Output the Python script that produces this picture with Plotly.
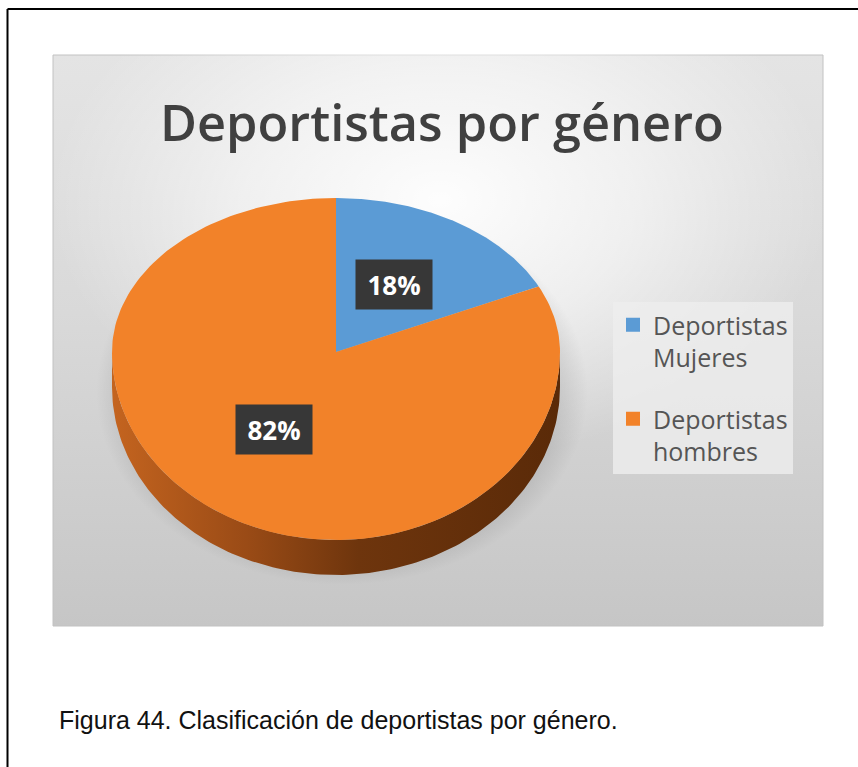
import numpy as np
import plotly.graph_objects as go

# ---------------- data ----------------
categories = ["Deportistas Mujeres", "Deportistas hombres"]
legend_names = ["Deportistas<br>Mujeres", "Deportistas<br>hombres"]
values = [18, 82]
label_texts = ["18%", "82%"]
slice_colors = ["#5B9BD5", "#F28229"]

title_text = "Deportistas por género"
caption_text = "Figura 44. Clasificación de deportistas por género."

# ---------------- layout geometry (pixels) ----------------
W, H = 858, 767
BOX = (53, 55, 823, 626)
CX, CY = 336, 352
RX, RY_UP, RY_DOWN = 224, 154, 188
DEPTH = 35


def ell(theta_deg, scale=1.0):
    t = np.radians(np.asarray(theta_deg, dtype=float))
    c = np.cos(t)
    ry = np.where(c >= 0, RY_UP, RY_DOWN)
    return CX + scale * RX * np.sin(t), CY - scale * ry * c


fig = go.Figure()

# background gray panel (vertical gradient) + soft highlight
x0, y0, x1, y1 = BOX
fig.add_trace(go.Scatter(
    x=[x0, x1, x1, x0, x0], y=[y0, y0, y1, y1, y0], mode="lines",
    line=dict(color="#c2c2c2", width=1), fill="toself",
    fillgradient=dict(type="vertical",
                      colorscale=[[0, "#c6c6c6"], [0.55, "#d9d9d9"], [1, "#e4e4e4"]]),
    hoverinfo="skip", showlegend=False))
th = np.linspace(0, 360, 200)
fig.add_trace(go.Scatter(
    x=440 + 390 * np.sin(np.radians(th)), y=200 - 260 * np.cos(np.radians(th)),
    mode="lines", line=dict(width=0), fill="toself",
    fillgradient=dict(type="radial",
                      colorscale=[[0, "rgba(255,255,255,0.95)"], [0.5, "rgba(255,255,255,0.55)"],
                                  [1, "rgba(255,255,255,0)"]]),
    hoverinfo="skip", showlegend=False))

# shadow under the pie
sx = CX + 6 + (RX + 22) * np.sin(np.radians(th))
sy = CY + 40 - ((RY_UP + RY_DOWN) / 2 + 22) * np.cos(np.radians(th))
fig.add_trace(go.Scatter(
    x=sx, y=sy, mode="lines", line=dict(width=0), fill="toself",
    fillgradient=dict(type="radial",
                      colorscale=[[0, "rgba(0,0,0,0.25)"], [0.8, "rgba(0,0,0,0.16)"],
                                  [1, "rgba(0,0,0,0)"]]),
    hoverinfo="skip", showlegend=False))

# slice angles from data
total = float(sum(values))
ends = np.cumsum(values) / total * 360.0
starts = np.concatenate([[0.0], ends[:-1]])

# side wall (front half only)
for a0, a1 in zip(starts, ends):
    w0, w1 = max(a0, 90.0), min(a1, 270.0)
    if w1 <= w0:
        continue
    tt = np.linspace(w0, w1, 160)
    ex, ey = ell(tt)
    wx = np.concatenate([ex, ex[::-1], ex[:1]])
    wy = np.concatenate([ey, ey[::-1] + DEPTH, ey[:1]])
    fig.add_trace(go.Scatter(
        x=wx, y=wy, mode="lines", line=dict(width=0), fill="toself",
        fillgradient=dict(type="horizontal",
                          colorscale=[[0, "#c4641f"], [0.3, "#9a4b16"], [0.55, "#6e350d"],
                                      [1, "#5a2a08"]]),
        hoverinfo="skip", showlegend=False))

# top faces
for name, a0, a1, col in zip(categories, starts, ends, slice_colors):
    tt = np.linspace(a0, a1, 200)
    ex, ey = ell(tt)
    fig.add_trace(go.Scatter(
        x=np.concatenate([[CX], ex, [CX]]), y=np.concatenate([[CY], ey, [CY]]),
        mode="lines", line=dict(width=0), fill="toself", fillcolor=col,
        name=name, hoverinfo="name", showlegend=False))

# data labels
mids = (starts + ends) / 2
for txt, m in zip(label_texts, mids):
    lx, ly = ell(m, 0.5)
    fig.add_annotation(x=float(lx) - 2, y=float(ly) - 2, xref="x", yref="y",
                       text="<b>" + txt + "</b>",
                       showarrow=False, font=dict(family="Open Sans", size=26, color="white"),
                       bgcolor="#373737", width=76, height=49, borderpad=0,
                       xanchor="center", yanchor="middle")

# legend entries
for i, (nm, col) in enumerate(zip(legend_names, slice_colors)):
    fig.add_trace(go.Scatter(x=[None], y=[None], mode="markers",
                             marker=dict(symbol="square", size=14, color=col),
                             name=nm, legendgroup=str(i)))

# title and caption
fig.add_annotation(x=442, y=121, xref="x", yref="y", text=title_text, showarrow=False,
                   font=dict(family="Open Sans", size=50.5, color="#404040", weight=600),
                   xanchor="center", yanchor="middle")
fig.add_annotation(x=57, y=720, xref="x", yref="y", text=caption_text, showarrow=False,
                   font=dict(family="Liberation Sans", size=25, color="#111111"),
                   xanchor="left", yanchor="middle")

# outer frame lines
fig.add_shape(type="line", x0=7.5, x1=W + 5, y0=9, y1=9, xref="x", yref="y",
              line=dict(color="black", width=2))
fig.add_shape(type="line", x0=7.5, x1=7.5, y0=9, y1=H + 5, xref="x", yref="y",
              line=dict(color="black", width=2))

fig.update_layout(
    width=W, height=H, margin=dict(l=0, r=0, t=0, b=0),
    paper_bgcolor="white", plot_bgcolor="white",
    xaxis=dict(range=[0, W], visible=False, fixedrange=True),
    yaxis=dict(range=[H, 0], visible=False, fixedrange=True),
    showlegend=True,
    legend=dict(x=613 / W, y=1 - 302 / H, xanchor="left", yanchor="top",
                bgcolor="rgba(238,238,238,0.8)", valign="top", tracegroupgap=26,
                font=dict(family="Open Sans", size=25, color="#555555")),
)

fig.write_html("out.html")
